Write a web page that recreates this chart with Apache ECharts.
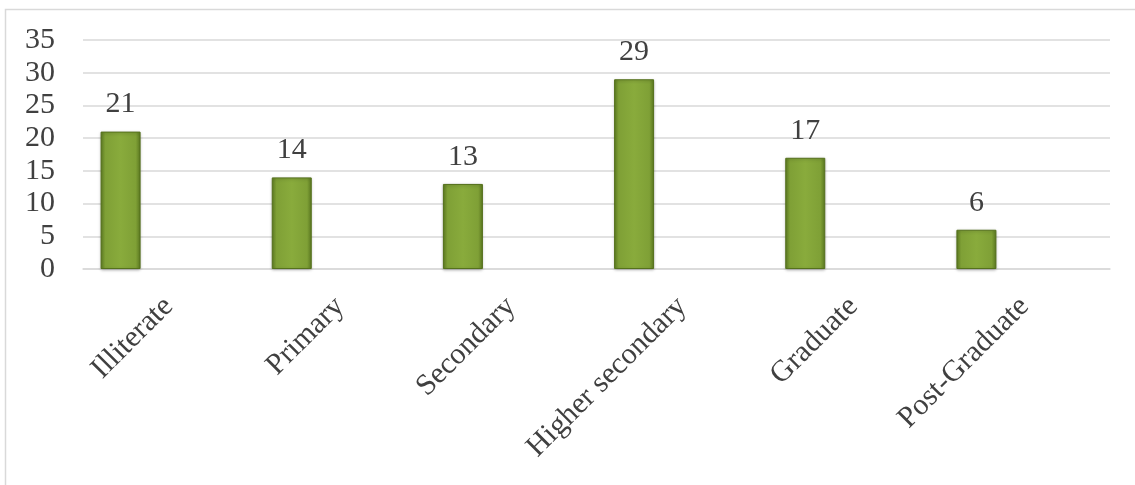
<!DOCTYPE html>
<html>
<head>
<meta charset="utf-8">
<script src="https://cdn.jsdelivr.net/npm/echarts@6/dist/echarts.min.js"></script>
<style>
html,body{margin:0;padding:0;background:#fff;}
#chart{width:1135px;height:485px;}
</style>
</head>
<body>
<div id="chart"></div>
<script>
const categories = ['Illiterate', 'Primary', 'Secondary', 'Higher secondary', 'Graduate', 'Post-Graduate'];
const values = [21, 14, 13, 29, 17, 6];
const yTicks = [0, 5, 10, 15, 20, 25, 30, 35];

const chart = echarts.init(document.getElementById('chart'));
const font = '"Liberation Serif", "Times New Roman", serif';
const barColor = {
  type: 'linear', x: 0, y: 0, x2: 1, y2: 0,
  colorStops: [
    { offset: 0, color: '#5f7d22' },
    { offset: 0.12, color: '#7fa036' },
    { offset: 0.5, color: '#89ab3c' },
    { offset: 0.88, color: '#7fa036' },
    { offset: 1, color: '#5f7d22' }
  ]
};
chart.setOption({
  animation: false,
  graphic: [{
    type: 'rect',
    shape: { x: 5.5, y: 9.5, width: 1200, height: 600 },
    style: { fill: 'none', stroke: '#d9d9d9', lineWidth: 1.5 },
    silent: true
  }],
  grid: { left: 83, right: 25, top: 40, bottom: 216, containLabel: false },
  xAxis: {
    type: 'category',
    data: categories,
    axisLine: { show: true, lineStyle: { color: '#d9d9d9', width: 1.5 } },
    axisTick: { show: false },
    axisLabel: {
      rotate: 45,
      interval: 0,
      margin: 33,
      color: '#404040',
      fontFamily: font,
      fontSize: 30
    }
  },
  yAxis: {
    type: 'value',
    min: yTicks[0],
    max: yTicks[yTicks.length - 1],
    interval: 5,
    axisLine: { show: false },
    axisTick: { show: false },
    splitLine: { lineStyle: { color: '#d9d9d9', width: 1.5 } },
    axisLabel: {
      margin: 28,
      color: '#404040',
      fontFamily: font,
      fontSize: 30
    }
  },
  series: [{
    type: 'bar',
    data: values,
    barWidth: 40,
    barGap: '140%',
    itemStyle: {
      color: barColor,
      borderColor: '#55711c',
      borderWidth: 1,
      shadowColor: 'rgba(0,0,0,0.25)',
      shadowBlur: 3,
      shadowOffsetY: 1
    },
    label: {
      show: true,
      position: 'top',
      distance: 12,
      color: '#404040',
      fontFamily: font,
      fontSize: 30
    }
  }, {
    type: 'bar',
    data: categories.map(() => null),
    barWidth: 40,
    silent: true
  }]
});
</script>
</body>
</html>
